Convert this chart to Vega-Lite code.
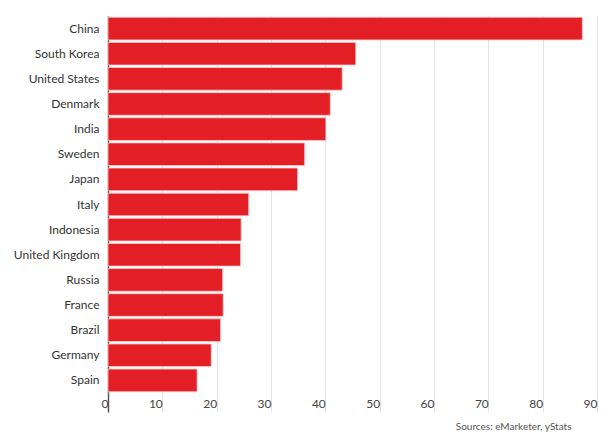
{
  "$schema": "https://vega.github.io/schema/vega-lite/v6.json",
  "autosize": "none",
  "padding": {"left": 108, "top": 16, "right": 15, "bottom": 46},
  "width": 489,
  "height": 377,
  "background": "white",
  "config": {
    "font": "Lato",
    "view": {"stroke": null}
  },
  "title": {
    "text": "Sources: eMarketer, yStats",
    "orient": "bottom",
    "anchor": "end",
    "fontSize": 10,
    "fontWeight": "normal",
    "color": "#555555",
    "font": "Lato",
    "dx": -26,
    "offset": 9
  },
  "data": {
    "values": [
      {"country": "China", "value": 87.3},
      {"country": "South Korea", "value": 45.6},
      {"country": "United States", "value": 43.1},
      {"country": "Denmark", "value": 40.9},
      {"country": "India", "value": 40.1},
      {"country": "Sweden", "value": 36.2},
      {"country": "Japan", "value": 34.9},
      {"country": "Italy", "value": 25.9},
      {"country": "Indonesia", "value": 24.5},
      {"country": "United Kingdom", "value": 24.4},
      {"country": "Russia", "value": 21.1},
      {"country": "France", "value": 21.2},
      {"country": "Brazil", "value": 20.7},
      {"country": "Germany", "value": 19.0},
      {"country": "Spain", "value": 16.4}
    ]
  },
  "mark": {"type": "bar", "color": "#e31e25", "stroke": "#f7c6c7", "strokeWidth": 0.8},
  "encoding": {
    "y": {
      "field": "country",
      "type": "nominal",
      "sort": null,
      "scale": {"paddingInner": 0.1, "paddingOuter": 0.05},
      "axis": {
        "title": null,
        "domain": false,
        "ticks": false,
        "labelFontSize": 12,
        "labelColor": "#333333",
        "labelPadding": 9,
        "labelFont": "Lato"
      }
    },
    "x": {
      "field": "value",
      "type": "quantitative",
      "scale": {"domain": [0, 90], "nice": false},
      "axis": {
        "title": null,
        "values": [0, 10, 20, 30, 40, 50, 60, 70, 80, 90],
        "domain": false,
        "grid": true,
        "gridColor": {"condition": {"test": "datum.value === 0", "value": "#555555"}, "value": "#e3e3e3"},
        "gridWidth": {"condition": {"test": "datum.value === 0", "value": 1.5}, "value": 1},
        "ticks": true,
        "tickSize": 19,
        "tickColor": {"condition": {"test": "datum.value === 0", "value": "#555555"}, "value": "#e3e3e3"},
        "tickWidth": {"condition": {"test": "datum.value === 0", "value": 1.5}, "value": 1},
        "labelAlign": "right",
        "labelBaseline": "top",
        "labelDx": -6,
        "labelPadding": -14,
        "labelFontSize": 12,
        "labelColor": "#444444",
        "labelFont": "Lato",
        "labelFlush": false
      }
    }
  }
}
